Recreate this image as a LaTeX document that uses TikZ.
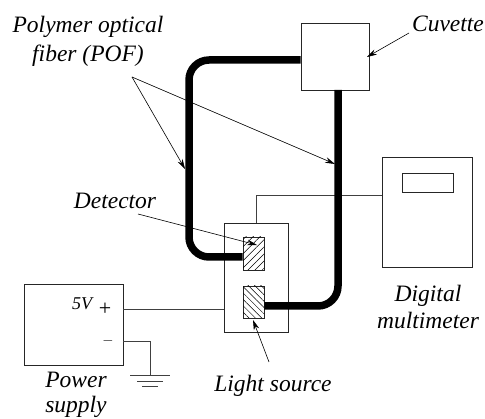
\documentclass[tikz,border=0pt]{standalone}
\usepackage{fontspec}
\setmainfont{Liberation Serif}
\usetikzlibrary{positioning,arrows.meta,patterns.meta}
\tikzset{
  box/.style={rectangle,draw=black!85,line width=0.8pt,fill=white,inner sep=0pt},
  label/.style={font=\fontsize{23.5}{27}\selectfont\itshape,align=center,inner sep=0pt},
  sign/.style={font=\fontsize{22}{22}\selectfont,inner sep=0pt},
  wire/.style={draw=black!75,line width=0.8pt},
  fiber/.style={line width=7.5pt,rounded corners=20pt},
  lead/.style={-{Stealth[length=3.5mm,width=2mm]},line width=0.6pt},
}
\begin{document}
\begin{tikzpicture}[x=1pt,y=-1pt]
\useasboundingbox (0,0) rectangle (485,419);
% wires
\node[box,minimum width=64pt,minimum height=109pt] (base) at (256,277.5) {};
\node[box,minimum width=90pt,minimum height=110pt] (meter) at (427,212) {};
\node[box,minimum width=51pt,minimum height=19pt] (display) at (427.5,182.5) {};
\node[box,minimum width=99pt,minimum height=81pt] (supply) at (73.5,324.5) {};
\node[box,minimum width=68pt,minimum height=67pt] (cuvette) at (335,56.5) {};
\node[box,minimum width=21pt,minimum height=33pt,
      postaction={pattern={Lines[angle=45,distance=5pt,line width=0.5pt]}}] (det) at (253.5,253.5) {};
\node[box,minimum width=21pt,minimum height=32pt,
      postaction={pattern={Lines[angle=-45,distance=4.5pt,line width=0.5pt]}}] (src) at (253.5,302) {};
\coordinate (gnd) at (150,375);
\draw[wire] (base.north) |- (meter.west |- 0,195);
\draw[wire] (supply.east |- 0,309) -- (base.west |- 0,309);
\draw[wire] (supply.east |- 0,341) -| (gnd);
\coordinate (gndb) at (150,381);
\coordinate (gndc) at (150,386);
\draw[wire] ([xshift=-20pt]gnd) -- ([xshift=20pt]gnd);
\draw[wire] ([xshift=-13pt]gndb) -- ([xshift=13pt]gndb);
\draw[wire] ([xshift=-8pt]gndc) -- ([xshift=8pt]gndc);
% fibers
\draw[fiber] (cuvette.west |- 0,60) -- (189,60) -- (189,257) -- (det.west |- 0,257);
\draw[fiber] (338,90) -- (338,306) -- (src.east |- 0,306);
% labels
\node[label] (pof) at (88,41) {Polymer optical\\[2pt]fiber (POF)\hspace{20pt}};
\node[label] (cuvlab) at (448,24) {Cuvette};
\node[label] (detlab) at (115,201) {Detector};
\node[label] (srclab) at (273,386) {Light source};
\node[label] (meterlab) at (428,307) {Digital\\multimeter};
\node[label,font=\fontsize{23.5}{25}\selectfont\itshape] (supplylab) at (76,395) {Power\\supply};
\node[sign,font=\fontsize{18}{18}\selectfont\itshape] (volt) at (82,304) {5V};
\node[sign] (plus) at (105,309) {+};
\node[sign,font=\fontsize{14}{14}\selectfont] (minus) at (108,341) {$-$};
% pointers
\coordinate (pofend) at (132,77);
\coordinate (pofa) at (185,169);
\coordinate (pofb) at (335,164);
\draw[lead] (pofend) -- (pofa);
\draw[lead] (pofend) -- (pofb);
\coordinate (cuvend) at (409,33);
\coordinate (cuvtip) at (367,57);
\draw[lead] (cuvend) -- (cuvtip);
\coordinate (detend) at (138,214);
\coordinate (dettip) at (257,245);
\draw[lead] (detend) -- (dettip);
\coordinate (srcend) at (269,362);
\coordinate (srctip) at (253,320);
\draw[lead] (srcend) -- (srctip);
\end{tikzpicture}
\end{document}
